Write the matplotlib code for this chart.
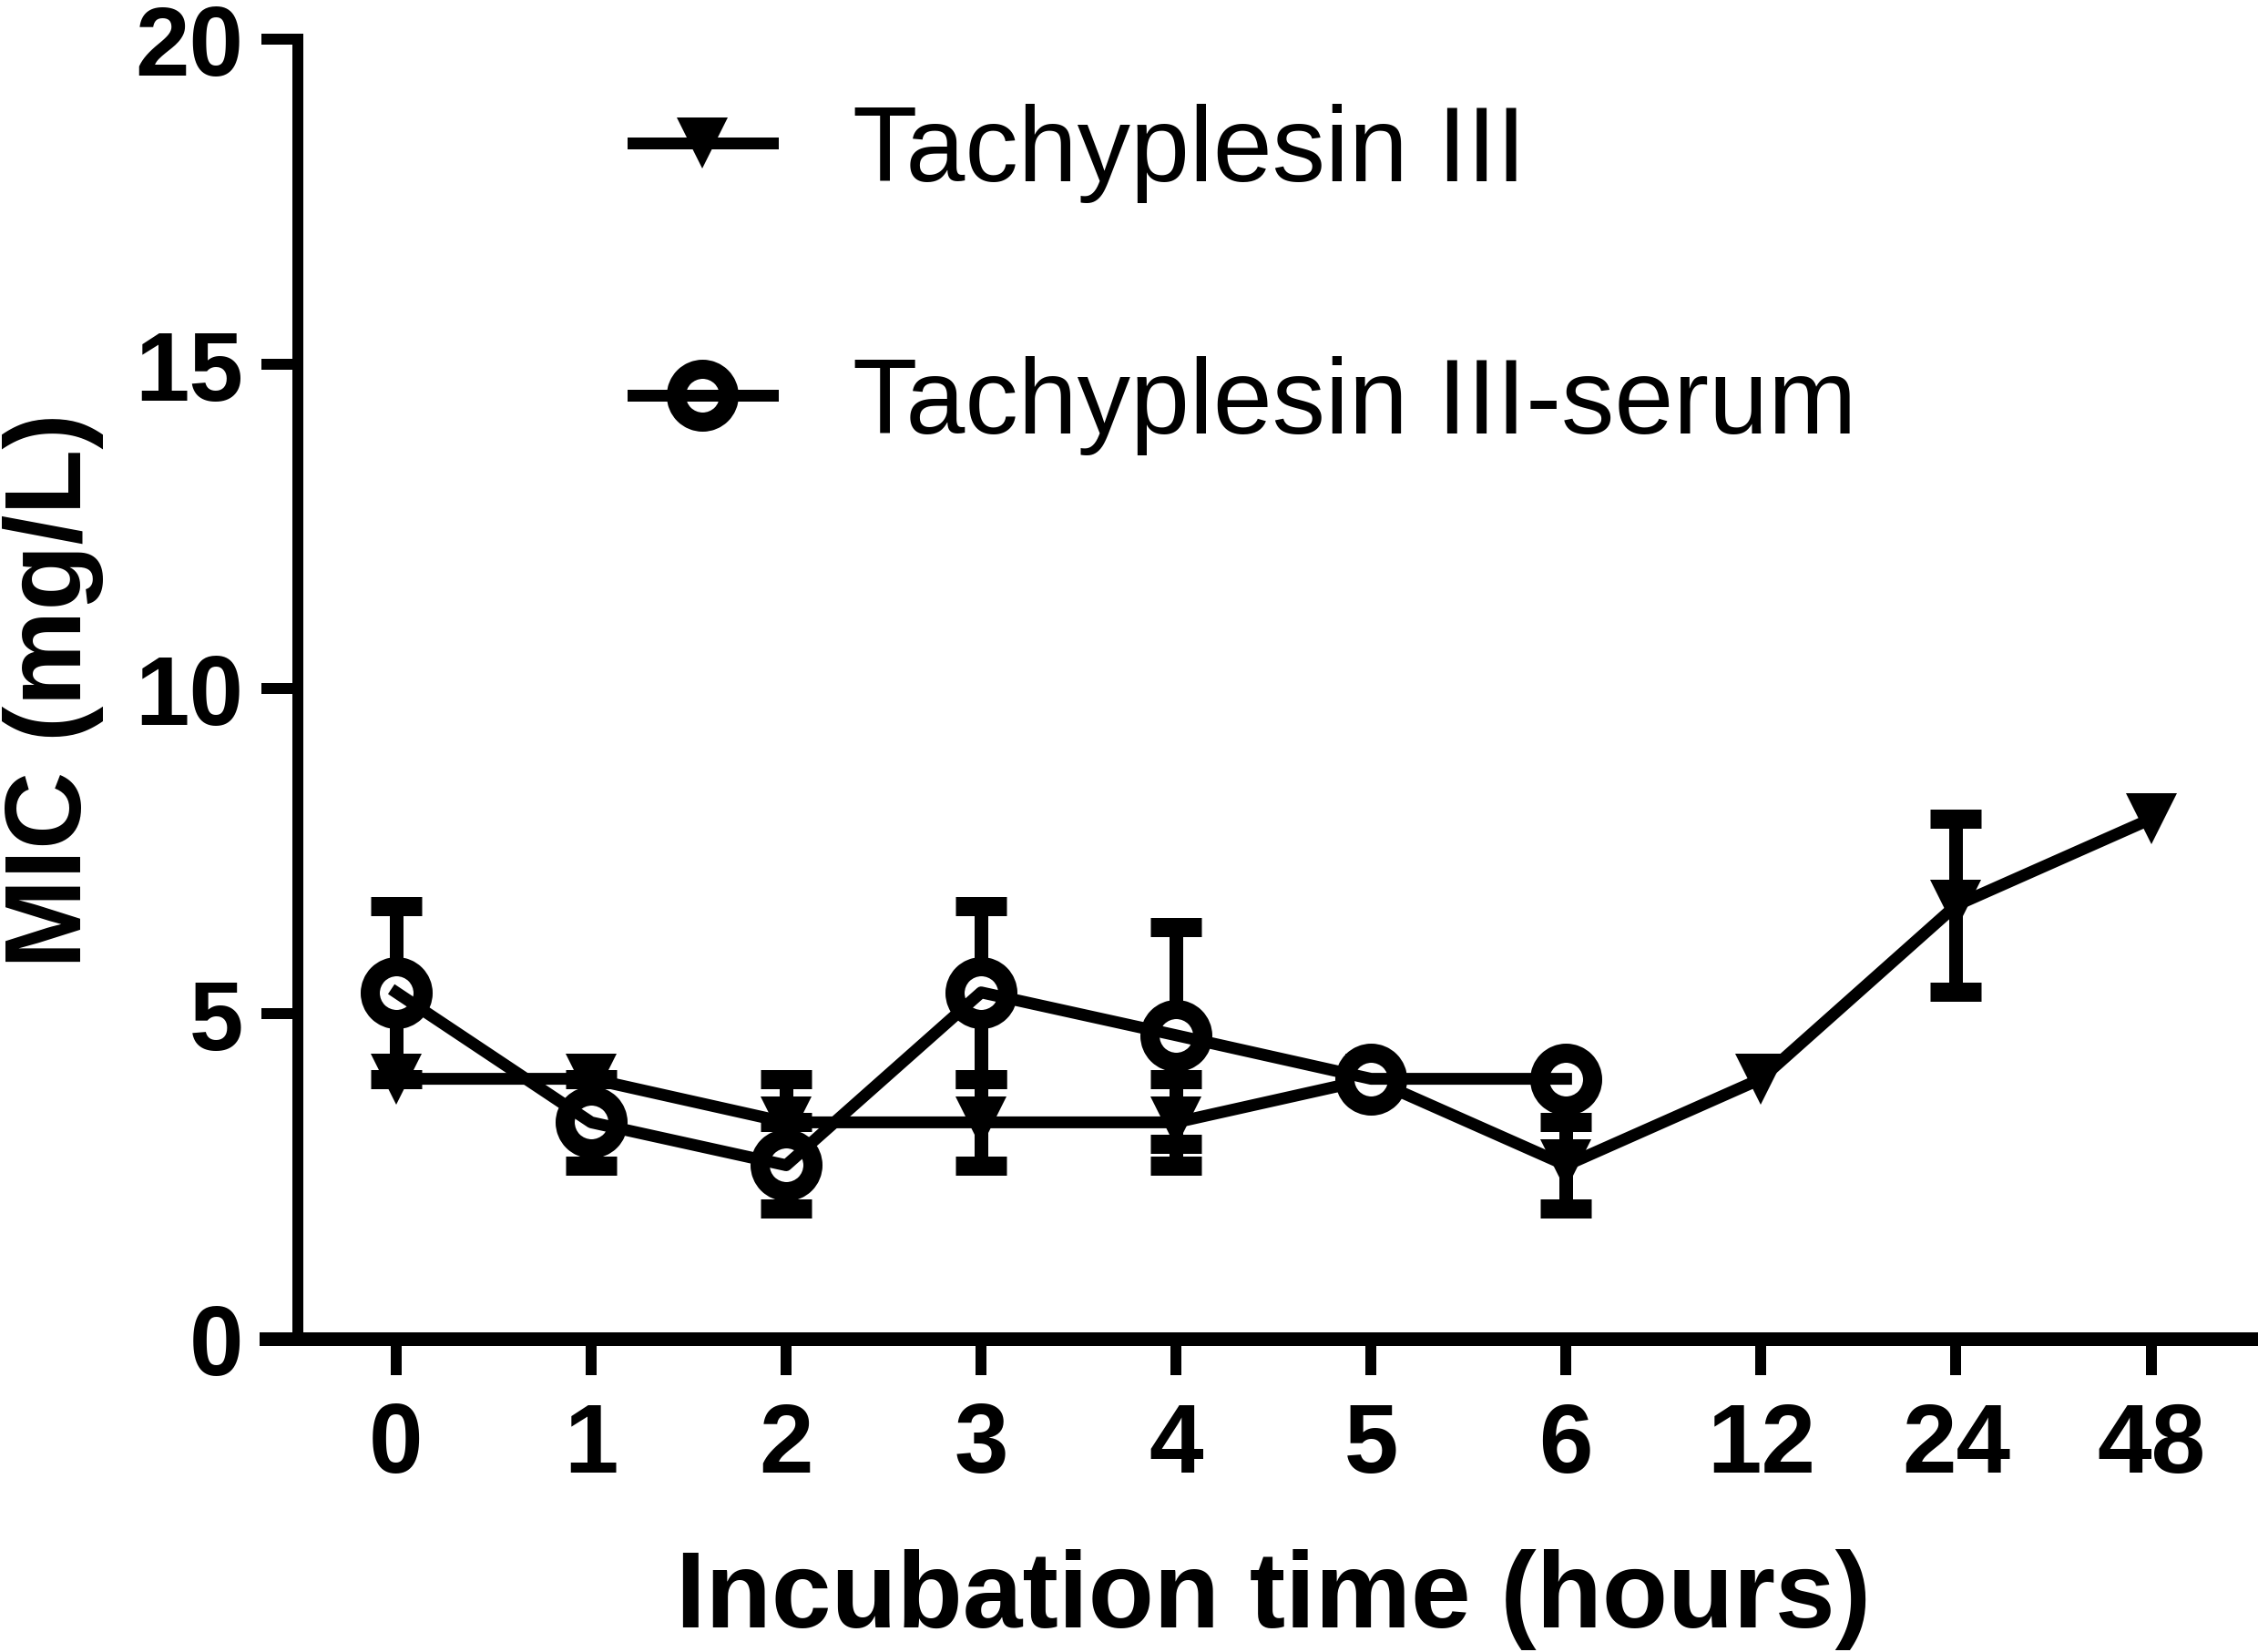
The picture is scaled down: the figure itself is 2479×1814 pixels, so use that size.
import numpy as np
import matplotlib
matplotlib.use('Agg')
import matplotlib.pyplot as plt

# 배양 시간 (범주형 x축)
times = ['0', '1', '2', '3', '4', '5', '6', '12', '24', '48']
# Tachyplesin III MIC 평균과 오차
tach = [4, 4, 3.33, 3.33, 3.33, 4, 2.67, 4, 6.67, 8]
tach_err = [0, 0, 0.67, 0.67, 0.67, 0, 0.67, 0, 1.33, 0]
# Tachyplesin III-serum (0~6시간만 측정)
serum = [5.33, 3.33, 2.67, 5.33, 4.67, 4, 4]
serum_err = [1.33, 0.67, 0.67, 1.33, 1.67, 0, 0]
labels = ['Tachyplesin III', 'Tachyplesin III-serum']

W, H = 2479, 1815
PT = 72 / 100  # px -> pt (dpi 100)

plt.rcParams['font.family'] = ['Liberation Sans', 'DejaVu Sans']

fig = plt.figure(figsize=(W / 100, H / 100), dpi=100)
ax = fig.add_axes([292 / W, (H - 1471) / H, (2475 - 292) / W, (1471 - 44) / H])

xa = np.arange(len(times))
xb = np.arange(len(serum))

# 오차가 0인 점은 캡을 그리지 않음
ea = np.where(np.array(tach_err) > 0, tach_err, np.nan)
eb = np.where(np.array(serum_err) > 0, serum_err, np.nan)

lw = 13 * PT
ebar = dict(ecolor='black', elinewidth=15 * PT, capsize=28 * PT, capthick=21 * PT)

cont_a = ax.errorbar(xa, tach, yerr=ea, fmt='-v', color='black', lw=lw,
                     ms=56 * PT, zorder=2, clip_on=False, **ebar)
cont_a[0].set_markeredgewidth(0)
for art in cont_a.lines[1] + cont_a.lines[2]:
    art.set_clip_on(False)

cont_b = ax.errorbar(xb, serum, yerr=eb, fmt='none', zorder=3, **ebar)
for art in cont_b.lines[1] + cont_b.lines[2]:
    art.set_clip_on(False)
mk_b, = ax.plot(xb, serum, ls='none', marker='o', ms=58 * PT, mfc='white',
                mec='black', mew=21 * PT, zorder=4, clip_on=False)
ln_b, = ax.plot(xb, serum, color='black', lw=lw, zorder=5, clip_on=False)

# 축 설정
ax.set_xlim(-0.668, 9.53)
ax.set_ylim(0, 20)
ax.set_xticks(xa)
ax.set_xticklabels(times)
ax.set_yticks([0, 5, 10, 15, 20])
for s in ['top', 'right']:
    ax.spines[s].set_visible(False)
ax.spines['left'].set_position(('data', -0.505))
ax.spines['left'].set_bounds(0, 20)
ax.spines['left'].set_linewidth(12 * PT)
ax.spines['bottom'].set_linewidth(15 * PT)
ax.tick_params(axis='both', direction='out', length=40 * PT, width=12 * PT,
               labelsize=77, color='black')
ax.tick_params(axis='y', pad=20 * PT)
ax.tick_params(axis='x', pad=28 * PT)
for t in ax.get_xticklabels() + ax.get_yticklabels():
    t.set_fontweight('bold')

# 축 제목
fig.text(1398 / W, (H - 1787) / H, 'Incubation time (hours)', fontsize=85,
         fontweight='bold', ha='center', va='baseline')
fig.text(89 / W, (H - 758) / H, 'MIC (mg/L)', fontsize=85, fontweight='bold',
         rotation=90, rotation_mode='anchor', ha='center', va='baseline')

# 범례
ax.legend([cont_a[0], (mk_b, ln_b)], labels, loc='upper left',
          bbox_to_anchor=(695 / W, 1 - 114 / H), bbox_transform=fig.transFigure,
          frameon=False, fontsize=84, borderpad=0, borderaxespad=0,
          handlelength=1.31, handletextpad=0.76, labelspacing=1.44, numpoints=1)

fig.savefig('out.png', dpi=100, facecolor='white')
